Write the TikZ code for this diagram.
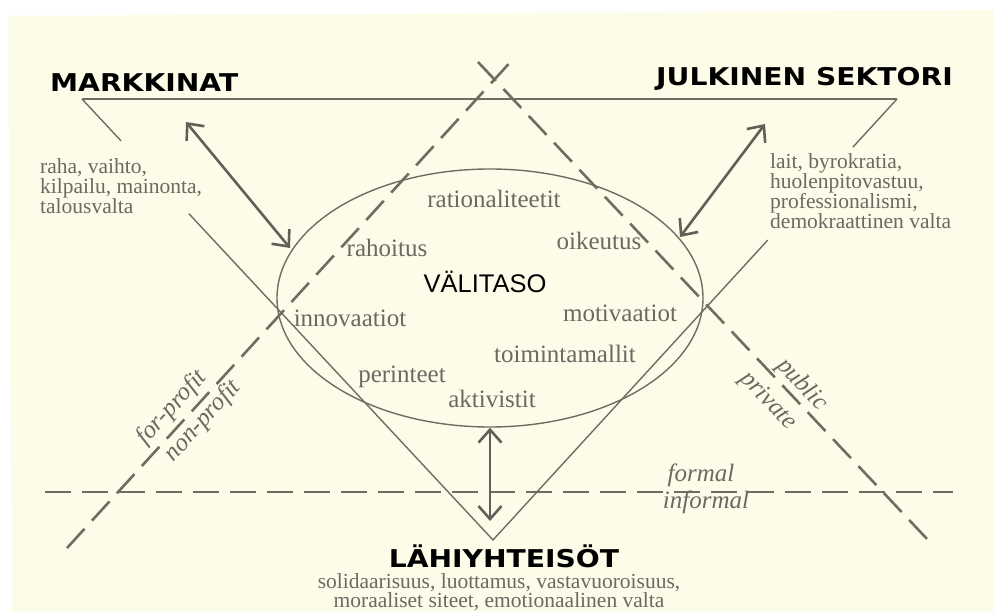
\documentclass[tikz,border=0pt]{standalone}
\usepackage{fontspec}
\setmainfont{Liberation Serif}
\newfontfamily\headfont{DejaVu Sans}
\newfontfamily\plainsans{Liberation Sans}
\usetikzlibrary{arrows.meta,calc,shapes.geometric}
\definecolor{paper}{RGB}{253,252,233}
\definecolor{ink}{RGB}{112,108,98}
\definecolor{wordgray}{RGB}{108,105,98}
\definecolor{arrowgray}{RGB}{98,95,88}

\tikzset{
  frame/.style={draw=ink, line width=1.4pt},
  divider/.style={draw=ink, line width=2.6pt, dash pattern=on 26pt off 11pt},
  barb/.tip={Straight Barb[length=13pt,width=23pt]},
  link/.style={draw=arrowgray, line width=2.6pt, barb-barb},
  sector/.style={font=\headfont\bfseries\fontsize{24.5}{26}\selectfont, text=black, inner sep=0pt},
  traits/.style={font=\fontsize{21.5}{20}\selectfont, text=wordgray, inner sep=0pt},
  word/.style={font=\fontsize{25}{28}\selectfont, text=wordgray, inner sep=0pt},
  side/.style={font=\itshape\fontsize{25}{28}\selectfont, text=wordgray, inner sep=0pt},
}

\begin{document}
\begin{tikzpicture}[x=1pt,y=-1pt]
\useasboundingbox (0,0) rectangle (994,612);
% paper sheet
\fill[white] (0,0) rectangle (994,612);
\fill[paper] (8,16) -- (994,10) -- (994,612) -- (12,612) -- cycle;

% corners of the solid triangle
\coordinate (tl) at (82,99);
\coordinate (tr) at (897,99);
\coordinate (bv) at (493,540);

% the middle level
\node[ellipse, draw=ink, line width=1.4pt, minimum width=426pt, minimum height=258pt, inner sep=0pt] (mid) at (490,298) {};

% triangle sides, broken where the trait lists sit
\draw[frame] (tl) -- (tr);
\draw[frame] (tl) -- ($(tl)!0.095!(bv)$);
\draw[frame] ($(tl)!0.26!(bv)$) -- (bv) -- ($(tr)!0.32!(bv)$);
\draw[frame] ($(tr)!0.109!(bv)$) -- (tr);

% dashed dividing lines
\coordinate (fpA) at (67,548);
\coordinate (fpB) at (515,57);
\coordinate (ppA) at (478,62);
\coordinate (ppB) at (928,540);
\coordinate (fiA) at (45,492);
\coordinate (fiB) at (953,492);
\draw[divider] (fpA) -- (fpB);
\draw[divider] (ppA) -- (ppB);
\draw[divider] (fiA) -- (fiB);

% exchange arrows
\coordinate (mkA) at (186,122);
\coordinate (mkB) at (290,248);
\coordinate (jsA) at (765,124);
\coordinate (jsB) at (680,237);
\coordinate (lhB) at (490,521);
\draw[link] (mkA) -- (mkB);
\draw[link] (jsA) -- (jsB);
\draw[link] (mid.south) -- (lhB);

% sector headings
\node[sector, anchor=base west] (mark) at (50,92) {\scalebox{1.15}[1]{MARKKINAT}};
\node[sector, anchor=base east] (julk) at (953,86) {\scalebox{1.15}[1]{JULKINEN SEKTORI}};
\node[sector, anchor=base] (lahi) at (504,567) {\scalebox{1.15}[1]{LÄHIYHTEISÖT}};

% trait lists
\node[traits, align=left, anchor=north west] (marktr) at (40,158)
  {raha, vaihto,\\kilpailu, mainonta,\\talousvalta};
\node[traits, align=left, anchor=north west] (julktr) at (770,153)
  {lait, byrokratia,\\huolenpitovastuu,\\professionalismi,\\demokraattinen valta};
\node[traits, font=\fontsize{21.5}{19}\selectfont, align=center, anchor=north] (lahitr) at (499,573)
  {solidaarisuus, luottamus, vastavuoroisuus,\\moraaliset siteet, emotionaalinen valta};

% words inside the middle level
\node[font=\plainsans\fontsize{25.5}{28}\selectfont, text=black, inner sep=0pt, anchor=base] (vali) at (485,293) {VÄLITASO};
\node[word, anchor=base] (w1) at (494,208) {rationaliteetit};
\node[word, anchor=base] (w2) at (387,257) {rahoitus};
\node[word, anchor=base] (w3) at (599,250) {oikeutus};
\node[word, anchor=base] (w4) at (350,327) {innovaatiot};
\node[word, anchor=base] (w5) at (620,322) {motivaatiot};
\node[word, anchor=base] (w6) at (565,363) {toimintamallit};
\node[word, anchor=base] (w7) at (402,383) {perinteet};
\node[word, anchor=base] (w8) at (492,408) {aktivistit};

% labels along the dividing lines
\node[side, rotate=47.6] (forp) at (172,408) {for-profit};
\node[side, rotate=47.6] (nonp) at (203,421) {non-profit};
\node[side, rotate=-46.7] (pub) at (802,385) {public};
\node[side, rotate=-46.7] (priv) at (768,401) {private};
\node[side] (form) at (701,475) {formal};
\node[side] (inform) at (706,502) {informal};
\end{tikzpicture}
\end{document}
